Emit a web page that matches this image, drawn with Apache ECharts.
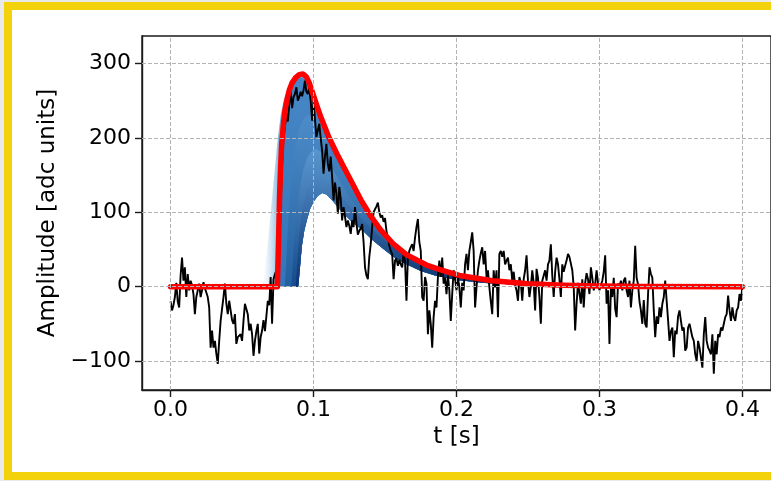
<!DOCTYPE html>
<html>
<head>
<meta charset="utf-8">
<script src="https://cdn.jsdelivr.net/npm/echarts@6/dist/echarts.min.js"></script>
<style>
  html, body { margin: 0; padding: 0; background: #e9e9e9; }
  #chart { width: 771px; height: 481px; }
</style>
</head>
<body>
<div id="chart"></div>
<script>
// Recorded waveform, one sample per millisecond from t = 0 s to t = 0.4 s
const SAMPLE_STEP = 0.001;
const signal = [
  -20, -32, -25, -14, 5, -20, -28, 15, 39, 8,
  26, -14, 17, -5, 8, 2, -10, -37, -14, -5,
  4, -14, -5, 6, -2, -8, -14, -28, -82, -59,
  -82, -73, -90, -104, -73, -46, -30, -14, 4, -23,
  -37, -19, -32, -45, -50, -37, -77, -68, -68, -64,
  -73, -46, -23, -30, -37, -59, -50, -64, -93, -73,
  -60, -50, -90, -68, -59, -45, -60, -40, -19, -25,
  13, -50, 10, 17, 22, 5, 50, 110, 165, 200,
  215, 232, 222, 245, 262, 240, 255, 259, 268, 250,
  255, 262, 256, 264, 277, 262, 259, 268, 250, 223,
  250, 225, 201, 210, 219, 200, 183, 152, 175, 192,
  165, 155, 175, 147, 116, 140, 125, 98, 134, 118,
  89, 107, 94, 80, 89, 82, 71, 89, 80, 107,
  85, 70, 75, 78, 84, 60, 26, 15, 10, 40,
  57, 80, 100, 104, 108, 113, 100, 93, 96, 87,
  92, 75, 66, 55, 48, 44, 10, 35, 38, 28,
  36, 30, 26, 44, 35, -19, 39, 48, 53, 57,
  48, 66, 80, 91, 60, 48, -14, -19, 13, 4,
  -64, -32, -50, -82, -41, -19, -28, 13, 35, 13,
  39, 4, 12, -10, 15, -5, -46, -10, 22, 10,
  -5, 13, -1, -28, 5, -5, 30, 44, 22, 48,
  60, 73, 48, -28, -1, 22, 35, 45, 53, 30,
  48, 13, 22, -1, -20, -37, 22, -1, 22, -41,
  44, 48, 40, 48, 30, 35, 39, 22, 30, 8,
  20, 2, -5, -19, 13, 5, -19, 10, 22, 42,
  8, -14, 0, 22, 5, -32, 24, 12, -14, -50,
  8, 15, 22, 8, 30, 35, 57, 15, -14, 20,
  39, 30, 10, -14, 30, 20, 28, 35, 44, 40,
  39, 22, 0, -59, -23, 5, 5, -23, 10, -28,
  5, 18, 10, -10, 26, 12, -5, 3, 22, 5,
  -5, 2, 8, 20, 42, -23, -5, -77, -2, -14,
  12, -30, -41, 4, 0, 8, -5, 8, 12, -5,
  -14, 8, -28, -5, 8, 55, 12, 3, -20, -32,
  -50, -18, -50, -55, -10, 26, 17, 12, -32, -68,
  -40, -50, -28, -41, -23, -14, 8, -19, -45, -73,
  -60, -55, -95, -59, -64, -40, -32, -46, -59, -55,
  -86, -82, -55, -50, -59, -68, -73, -91, -100, -73,
  -82, -95, -109, -64, -41, -73, -82, -86, -91, -64,
  -117, -73, -91, -64, -68, -55, -59, -50, -41, -37,
  -12, -32, -46, -28, -41, -46, -32, -28, -10, -19,
  0
];

// Best-fit pulse [t (s), amplitude]
const fitCurve = [
  [0, 0], [0.0747, 0], [0.0755, 60], [0.0763, 125], [0.0770, 162], [0.0777, 192],
  [0.0790, 220], [0.0800, 237], [0.0815, 252], [0.0830, 264], [0.0850, 274],
  [0.0875, 281], [0.0900, 285], [0.0925, 286], [0.0950, 282], [0.0970, 274],
  [0.0991, 262], [0.1020, 245], [0.1049, 229], [0.1107, 201], [0.1165, 178],
  [0.1224, 156], [0.1282, 135], [0.1330, 117], [0.1400, 95], [0.1470, 76],
  [0.1560, 57], [0.1650, 43], [0.1790, 29], [0.1900, 22], [0.2020, 15],
  [0.2250, 8], [0.2500, 4], [0.2750, 2], [0.3000, 1], [0.3300, 0.3], [0.4000, 0]
];

// Posterior pulse samples, from the earliest onset (lightest) to the latest (darkest)
const sampleEarliest = [
  [0.0645, 0], [0.067, 40], [0.069, 80], [0.071, 120], [0.073, 160], [0.075, 200],
  [0.077, 230], [0.079, 250], [0.082, 266], [0.086, 278], [0.091, 284], [0.095, 281],
  [0.0991, 259], [0.1049, 227], [0.1107, 199], [0.1165, 176], [0.1224, 154],
  [0.1282, 133], [0.133, 116], [0.140, 94], [0.147, 75], [0.156, 56], [0.165, 42],
  [0.179, 28], [0.190, 21], [0.202, 14], [0.225, 7], [0.250, 3.5], [0.275, 1.5], [0.300, 0.5]
];
const sampleEarly = [
  [0.0748, 0], [0.0758, 90], [0.0765, 130], [0.0777, 185], [0.0790, 215], [0.0800, 232],
  [0.0828, 260], [0.0863, 276], [0.0910, 282], [0.0950, 278], [0.0991, 257],
  [0.1049, 226], [0.1107, 198], [0.1165, 175], [0.1224, 153], [0.1282, 132],
  [0.133, 115], [0.140, 93], [0.147, 74], [0.156, 55], [0.165, 41], [0.179, 27],
  [0.190, 20], [0.202, 13], [0.225, 7], [0.250, 3], [0.275, 1.5], [0.300, 0.5]
];
const sampleMiddle = [
  [0.0800, 0], [0.0815, 60], [0.0830, 110], [0.0850, 155], [0.0875, 190], [0.0900, 212],
  [0.0930, 226], [0.0960, 231], [0.0990, 230], [0.1030, 220], [0.1080, 199],
  [0.1140, 175], [0.1200, 152], [0.1270, 128], [0.1340, 106], [0.1410, 88],
  [0.1480, 72], [0.1560, 58], [0.1650, 45], [0.1750, 35], [0.1850, 26],
  [0.2000, 17], [0.2200, 10], [0.2500, 4.5], [0.2750, 2], [0.3000, 0.7]
];
const sampleLate = [
  [0.0845, 0], [0.0860, 50], [0.0880, 95], [0.0900, 128], [0.0925, 155], [0.0955, 173],
  [0.0990, 183], [0.1020, 185], [0.1060, 180], [0.1110, 166], [0.1170, 146],
  [0.1240, 124], [0.1310, 105], [0.1380, 89], [0.1450, 75], [0.1530, 61],
  [0.1620, 48], [0.1720, 37], [0.1830, 27], [0.1970, 18], [0.2150, 10],
  [0.2400, 5], [0.2700, 2], [0.3000, 0.7]
];
const sampleLater = [
  [0.0875, 0], [0.0888, 40], [0.0905, 80], [0.0925, 108], [0.0950, 128], [0.0980, 141],
  [0.1010, 148], [0.1040, 150], [0.1080, 146], [0.1130, 137], [0.1200, 120],
  [0.1270, 104], [0.1340, 90], [0.1410, 77], [0.1480, 65], [0.1560, 53],
  [0.1650, 41], [0.1750, 31], [0.1860, 22], [0.2000, 15], [0.2200, 8],
  [0.2500, 3], [0.3000, 0.5]
];
const sampleLatest = [
  [0.0893, 0], [0.0905, 25], [0.0918, 54], [0.0935, 75], [0.0954, 90], [0.0975, 104],
  [0.1000, 114], [0.1030, 122], [0.1060, 126], [0.1090, 124], [0.1130, 116],
  [0.1200, 100], [0.1270, 87], [0.1340, 76], [0.1410, 63], [0.1480, 52],
  [0.1560, 40], [0.1650, 30], [0.1750, 21], [0.1850, 15], [0.2000, 9],
  [0.2200, 5], [0.2500, 2], [0.3000, 0]
];
const sampleCurves = [sampleEarliest, sampleEarly, sampleMiddle, sampleLate, sampleLater];
// shade of each band: [colour at the baseline, colour at the sample's peak]
const sampleShades = [
  null,
  ['#3375b9', '#4787c6'],
  ['#22609f', '#4d8cc9'],
  ['#154a8c', '#5a95cd'],
  ['#0b3572', '#4c86c1']
];

const xTicks = [0, 0.1, 0.2, 0.3, 0.4];
const yTicks = [-100, 0, 100, 200, 300];

const FONT = 'DejaVu Sans';
const TEXT = '#000000';
const chart = echarts.init(document.getElementById('chart'), null, { renderer: 'canvas' });

const signalData = signal.map((v, i) => [+(i * SAMPLE_STEP).toFixed(3), v]);

// each band is the region between one sample and the latest-onset sample
function renderBand(params, api) {
  const k = api.value(2);
  const curve = sampleCurves[k];
  const outer = curve.map(p => api.coord(p));
  const inner = sampleLatest.slice().reverse().map(p => api.coord(p));
  let fill;
  if (k === 0) {
    const a = api.coord([curve[0][0], 0]);
    const b = api.coord([sampleEarly[0][0] + 0.0015, 0]);
    fill = new echarts.graphic.LinearGradient(a[0], 0, b[0], 0, [
      { offset: 0, color: 'rgba(222,235,247,0.1)' },
      { offset: 0.45, color: 'rgba(198,219,239,0.7)' },
      { offset: 1, color: '#7fb5dc' }
    ], true);
  } else {
    const peak = Math.max.apply(null, curve.map(p => p[1]));
    const y0 = api.coord([0.1, 0])[1];
    const y1 = api.coord([0.1, peak])[1];
    fill = new echarts.graphic.LinearGradient(0, y0, 0, y1, [
      { offset: 0, color: sampleShades[k][0] },
      { offset: 1, color: sampleShades[k][1] }
    ], true);
  }
  return {
    type: 'polygon',
    shape: { points: outer.concat(inner) },
    style: { fill: fill, stroke: null }
  };
}

const gridLines = xTicks.map(v => ({ xAxis: v })).concat(yTicks.map(v => ({ yAxis: v })));

const option = {
  animation: false,
  backgroundColor: '#e9e9e9',
  graphic: [
    {
      type: 'rect', z: -5, silent: true,
      shape: { x: 8, y: 6, width: 790, height: 470 },
      style: { fill: '#ffffff', stroke: null }
    },
    {
      type: 'rect', z: 100, silent: true,
      shape: { x: 8, y: 6, width: 790, height: 470 },
      style: { fill: 'none', stroke: '#f3d20c', lineWidth: 8 }
    }
  ],
  grid: {
    left: 142, top: 36, width: 630, height: 354,
    show: true, backgroundColor: '#ffffff', borderColor: '#1a1a1a', borderWidth: 1.4
  },
  xAxis: {
    type: 'value', min: -0.02, max: 0.42,
    splitLine: { show: false },
    axisLine: { show: true, onZero: false, lineStyle: { color: '#1a1a1a', width: 1.4 } },
    axisTick: { show: true, customValues: xTicks, length: 7, lineStyle: { color: '#1a1a1a', width: 1.4 } },
    axisLabel: {
      customValues: xTicks, formatter: v => v.toFixed(1),
      fontFamily: FONT, fontSize: 22, color: TEXT, margin: 9
    },
    name: 't [s]', nameLocation: 'middle', nameGap: 36,
    nameTextStyle: { fontFamily: FONT, fontSize: 23, color: TEXT }
  },
  yAxis: {
    type: 'value', min: -139, max: 337,
    splitLine: { show: false },
    axisLine: { show: true, onZero: false, lineStyle: { color: '#1a1a1a', width: 1.4 } },
    axisTick: { show: true, customValues: yTicks, length: 7, lineStyle: { color: '#1a1a1a', width: 1.4 } },
    axisLabel: {
      customValues: yTicks,
      formatter: v => (v < 0 ? '\u2212' + Math.abs(v) : String(v)),
      fontFamily: FONT, fontSize: 22, color: TEXT, margin: 11
    },
    name: 'Amplitude [adc units]', nameLocation: 'middle', nameGap: 78, nameRotate: 90,
    nameTextStyle: { fontFamily: FONT, fontSize: 23, color: TEXT }
  },
  series: [
    {
      name: 'grid',
      type: 'line',
      data: [],
      z: 1,
      silent: true,
      markLine: {
        silent: true,
        symbol: ['none', 'none'],
        label: { show: false },
        lineStyle: { color: '#b3b3b3', width: 1, type: [4, 2] },
        data: gridLines
      }
    },
    {
      name: 'samples',
      type: 'custom',
      z: 2,
      silent: true,
      clip: true,
      renderItem: renderBand,
      data: sampleCurves.map((c, i) => [0.1, 0, i])
    },
    {
      name: 'signal',
      type: 'line',
      z: 3,
      data: signalData,
      showSymbol: false,
      lineStyle: { color: '#000000', width: 1.9 },
      silent: true
    },
    {
      name: 'fit',
      type: 'line',
      z: 4,
      data: fitCurve,
      showSymbol: false,
      lineStyle: { color: '#ff0000', width: 5.5, cap: 'round', join: 'round' },
      silent: true
    }
  ]
};

chart.setOption(option);
</script>
</body>
</html>
